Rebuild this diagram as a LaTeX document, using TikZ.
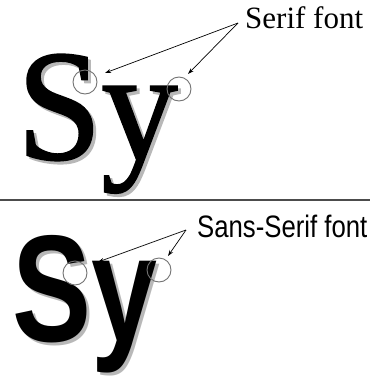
\documentclass[tikz,border=0pt]{standalone}
\usepackage{fontspec}
\setmainfont{Liberation Serif}
\newfontfamily\serifbig[FakeBold=1.3,FakeStretch=0.96]{Liberation Serif}
\newfontfamily\sansc[FakeStretch=0.83]{Liberation Sans}
\newfontfamily\sansbig[FakeStretch=0.78]{Liberation Sans Bold}
\usetikzlibrary{arrows.meta}
\newcommand{\shadowed}[1]{{\color{black!28}\rlap{\hspace{3pt}\raisebox{-3pt}{#1}}}#1}
\begin{document}
\begin{tikzpicture}[x=1pt,y=-1pt,
  letters/.style={inner sep=0pt,anchor=base west},
  ring/.style={circle,draw=black!55,line width=0.9pt,minimum size=24pt,inner sep=0pt},
  pointer/.style={draw=black,line width=0.7pt,-{Stealth[length=6pt,width=4pt]}},
  label/.style={inner sep=0pt,anchor=base west}]
\useasboundingbox (0,0) rectangle (370,383);
% --- serif part ---
\node[letters] (sSy) at (17,159) {\serifbig\fontsize{158}{158}\selectfont\shadowed{Sy}};
\node[ring] (c1) at (85,82) {};
\node[ring] (c2) at (179,89) {};
\node[label] (serif) at (245,28) {\fontsize{31}{31}\selectfont Serif font};
\coordinate (t1) at (105,73);
\coordinate (t2) at (188,74);
\coordinate (o1) at (238,23);
\draw[pointer] (o1) -- (t1);
\draw[pointer] (o1) -- (t2);
% --- divider ---
\coordinate (l0) at (0,200);
\coordinate (l1) at (370,200);
\draw[black!70,line width=1.2pt] (l0) -- (l1);
% --- sans part ---
\node[letters] (aSy) at (12,341) {\sansbig\fontsize{152}{152}\selectfont\shadowed{Sy}};
\node[ring] (c3) at (75,273) {};
\node[ring] (c4) at (159,270) {};
\node[label] (sans) at (197,237) {\sansc\fontsize{31}{31}\selectfont Sans-Serif font};
\coordinate (t3) at (98,262);
\coordinate (t4) at (168,256);
\coordinate (o2) at (186,230);
\draw[pointer] (o2) -- (t3);
\draw[pointer] (o2) -- (t4);
\end{tikzpicture}
\end{document}
